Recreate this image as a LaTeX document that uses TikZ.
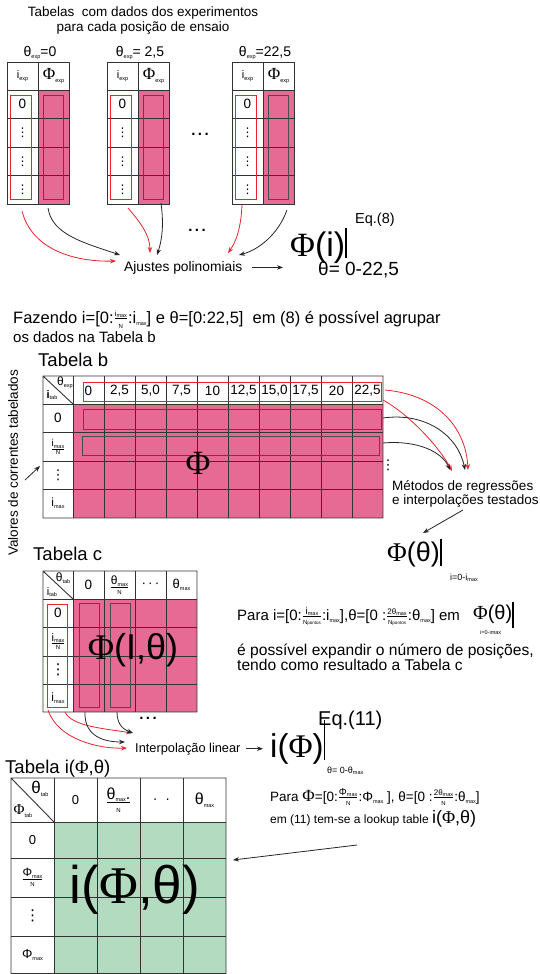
\documentclass[tikz,border=0pt]{standalone}
\usepackage{fontspec}
\setmainfont{Liberation Sans}
\newfontfamily\phifont{Liberation Serif}
\newfontfamily\dotsfont{DejaVu Sans}
\usetikzlibrary{arrows.meta,positioning}
\definecolor{tabpink}{RGB}{231,106,149}
\definecolor{tabgreen}{RGB}{179,219,192}
\definecolor{markred}{RGB}{232,36,44}

\newcommand\fsz[1]{\fontsize{#1}{#1}\selectfont}
\newcommand\Fi{{\phifont Φ}}
\newcommand\lo[1]{\raisebox{-0.3ex}{\fontsize{5.5}{6}\selectfont #1}}
\newcommand\fr[2]{$\frac{\hbox{#1}}{\hbox{\fontsize{6}{6}\selectfont #2}}$}
\newcommand\evbar[2]{\rule[-#2pt]{1.6pt}{\dimexpr #1pt+#2pt\relax}}
\newcommand\vd{{\dotsfont ⋮}}

\tikzset{
  tabline/.style={line width=0.9pt,black!80},
  redbox/.style={markred,line width=0.8pt},
  colbox/.style={black!70,line width=0.8pt},
  redarr/.style={markred,line width=0.8pt,-{Stealth[length=6pt,width=4.5pt]}},
  blkarr/.style={black!85,line width=0.8pt,-{Stealth[length=6pt,width=4.5pt]}},
  txt/.style={inner sep=0pt,anchor=base west},
  cell/.style={inner sep=0pt,font=\fsz{13.5}},
}

\begin{document}
\begin{tikzpicture}[x=1pt,y=-1pt]
  \useasboundingbox (0,0) rectangle (540,974);

  % tabelas dos ensaios
  \node[inner sep=0pt,align=center,font=\fontsize{13.5}{15}\selectfont] (titulo) at (143,21)
    {Tabelas\ \ com dados dos experimentos\\para cada posição de ensaio};

  \foreach \tx/\ang [count=\k] in {7/{=0}, 107/{= 2,5}, 232/{=22,5}} {
    \fill[tabpink] (\tx+31,90) rectangle (\tx+62,204);
    \foreach \ry in {90,118.5,147,175.5}
      \draw[tabline] (\tx,\ry) -- (\tx+62,\ry);
    \draw[tabline] (\tx,62) rectangle (\tx+62,204) (\tx+31,62) -- (\tx+31,204);
    \draw[redbox] (\tx+3,95) rectangle (\tx+24,199);
    \draw[colbox] (\tx+36,95) rectangle (\tx+56,199);
    \node[cell,font=\fsz{14}] (ang\k) at (\tx+33,53) {θ\lo{exp}\ang};
    \node[cell,font=\fsz{11}] (ie\k) at (\tx+15.5,76) {i\lo{exp}};
    \node[cell,font=\fsz{17}] (fe\k) at (\tx+46.5,76) {\Fi\lo{exp}};
    \node[cell] (z\k) at (\tx+15.5,104) {0};
    \foreach \ry [count=\j] in {133,161.5,190}
      \node[cell,font=\fsz{12}] (v\k\j) at (\tx+15.5,\ry) {\vd};
  }
  \node[cell,font=\fsz{15}] (dotsa) at (200,134) {\textbf{.\,.\,.}};
  \node[cell,font=\fsz{15}] (dotsb) at (197,230) {\textbf{.\,.\,.}};

  \node[txt,font=\fsz{13.8}] (ajustes) at (124,271) {Ajustes polinomiais};
  \node[txt,font=\fsz{34}] (phii) at (290,256) {\Fi(i)\evbar{28}{2}};
  \node[txt,font=\fsz{14.5}] (eq8) at (355,223) {Eq.(8)};
  \node[txt,font=\fsz{19}] (range8) at (318,275) {θ= 0-22,5};
  \draw[blkarr,shorten <=9pt,shorten >=7pt] (ajustes.east) -- (ajustes.east -| phii.west);

  \coordinate (aj1) at (116,261);
  \coordinate (aj2) at (120,255);
  \coordinate (aj3) at (150,253);
  \coordinate (aj4) at (157,255);
  \coordinate (aj5) at (228,253);
  \coordinate (aj6) at (239,255);
  \draw[redarr] (22,211) .. controls (32,250) and (75,262) .. (aj1);
  \draw[blkarr] (48,208) .. controls (52,235) and (85,243) .. (aj2);
  \draw[redarr] (128,208) .. controls (140,222) and (150,235) .. (aj3);
  \draw[blkarr] (161,203) .. controls (164,225) and (162,240) .. (aj4);
  \draw[redarr] (242,205) .. controls (241,228) and (236,242) .. (aj5);
  \draw[blkarr] (287,210) .. controls (278,235) and (258,250) .. (aj6);

  % texto do meio
  \node[txt,font=\fsz{16.5}] (faz1) at (13,323)
    {Fazendo i=[0:\fr{\fsz{7.5}i\lo{max}}{N}:i\lo{max}] e θ=[0:22,5]\ \ em (8) é possível agrupar};
  \node[txt,font=\fsz{15}] (faz2) at (13,342) {os dados na Tabela b};

  % Tabela b
  \node[txt,font=\fsz{18.5}] (tabb) at (38,366) {Tabela b};
  \fill[tabpink] (73,404) rectangle (383,518);
  \foreach \cx in {73,104,...,352}
    \draw[tabline] (\cx,376) -- (\cx,518);
  \foreach \ry in {404,432.5,461,489.5}
    \draw[tabline] (43,\ry) -- (383,\ry);
  \draw[tabline] (43,376) rectangle (383,518) (43,376) -- (73,404);
  \node[cell,font=\fsz{12}] (thb) at (65,383) {θ\lo{exp}};
  \node[cell,font=\fsz{11}] (itb) at (52,395) {\textbf{i}\lo{tab}};
  \foreach \v [count=\c] in {0,{2,5},{5,0},{7,5},10,{12,5},{15,0},{17,5},20,{22,5}}
    \node[cell] (hb\c) at (57.5+31*\c,391) {\v};
  \draw[redbox] (83,382) rectangle (381,401);
  \draw[colbox] (83,409) rectangle (381,429);
  \draw[colbox] (82,436) rectangle (379,455);
  \node[cell] (b0) at (58,418) {0};
  \node[cell,font=\fsz{10}] (bn) at (58,447) {\fr{i\lo{max}}{N}};
  \node[cell] (bd) at (58,475) {\vd};
  \node[cell,font=\fsz{12}] (bm) at (58,503) {i\lo{max}};
  \node[inner sep=0pt,font=\phifont\fsz{34}] (phib) at (198,463) {Φ};
  \node[cell] (vdb) at (388,465) {\vd};

  \node[txt,font=\fsz{13.5}] (metodos1) at (392,490) {Métodos de regressões};
  \node[txt,font=\fsz{13.5}] (metodos2) at (392,504) {e interpolações testados};
  \coordinate (mt1) at (468,470);
  \coordinate (mt2) at (452,471);
  \coordinate (mt3) at (465,470);
  \coordinate (mt4) at (450,470);
  \draw[redarr] (385,390) .. controls (440,395) and (466,430) .. (mt1);
  \draw[redarr] (383,400) .. controls (410,415) and (440,448) .. (mt2);
  \draw[blkarr] (383,418) .. controls (425,412) and (458,435) .. (mt3);
  \draw[blkarr] (383,443) .. controls (418,440) and (442,452) .. (mt4);

  \node[txt,font=\fsz{27}] (phith) at (387,561) {\Fi(θ)\evbar{22}{5}};
  \node[txt,font=\fsz{9}] (phithsub) at (450,580) {i=0-i\lo{max}};
  \coordinate (mtout) at (463,510);
  \draw[blkarr] (mtout) -- (423,533);

  \node[rotate=90,inner sep=0pt,font=\fsz{13.5}] (valores) at (13,463) {Valores de correntes tabelados};
  \coordinate (valarr) at (25,480);
  \draw[blkarr] (valarr) -- (40,466);

  % Tabela c
  \node[txt,font=\fsz{18.5}] (tabc) at (33,560) {Tabela c};
  \fill[tabpink] (73,599) rectangle (197,712);
  \foreach \cx in {73,104,135,166}
    \draw[tabline] (\cx,571) -- (\cx,712);
  \foreach \ry in {599,627,656,684}
    \draw[tabline] (43,\ry) -- (197,\ry);
  \draw[tabline] (43,571) rectangle (197,712) (43,571) -- (73,599);
  \node[cell,font=\fsz{12}] (thc) at (63,578) {θ\lo{tab}};
  \node[cell,font=\fsz{11}] (itc) at (52,592) {i\lo{tab}};
  \node[cell] (hc1) at (88.5,585) {0};
  \node[cell,font=\fsz{12}] (hc2) at (119.5,585) {\fr{θ\lo{max}}{N}};
  \node[cell] (hc3) at (150.5,585) {·\,·\,·};
  \node[cell,font=\fsz{13}] (hc4) at (181.5,585) {θ\lo{max}};
  \node[cell] (c0) at (58,613) {0};
  \node[cell,font=\fsz{11}] (cn) at (58,641.5) {\fr{i\lo{max}}{N}};
  \node[cell,font=\fsz{15}] (cd) at (58,670) {\vd};
  \node[cell,font=\fsz{12}] (cm) at (58,698) {i\lo{max}};
  \draw[redbox] (47,604) rectangle (67,707);
  \draw[colbox] (79,603) rectangle (99,707);
  \draw[colbox] (110,603) rectangle (130,707);
  \node[inner sep=0pt,font=\fsz{36}] (phic) at (133,650) {\Fi(I,θ)};
  \node[cell,font=\fsz{15}] (dotsc) at (148,718) {\textbf{.\,.\,.}};

  \node[txt,font=\fsz{15}] (para1) at (237,620)
    {Para i=[0:\fr{\fsz{10}i\lo{max}}{N\fontsize{4.5}{5}\selectfont pontos}:i\lo{max}],θ=[0 :\fr{\fsz{8}2θ\lo{max}}{N\fontsize{4.5}{5}\selectfont pontos}:θ\lo{max}] em};
  \node[txt,font=\fsz{20}] (phith2) at (473,619) {\Fi(θ)\evbar{17}{9}};
  \node[txt,font=\fsz{5.5}] (phith2sub) at (480,634) {i=0-i\lo{max}};
  \node[txt,font=\fsz{15.6}] (para2) at (237,655) {é possível expandir o número de posições,};
  \node[txt,font=\fsz{15.6}] (para3) at (237,670) {tendo como resultado a Tabela c};

  \node[txt,font=\fsz{12.8}] (interp) at (135,752) {Interpolação linear};
  \coordinate (ip1) at (127,748);
  \coordinate (ip2) at (132,733);
  \coordinate (ip3) at (125,742);
  \coordinate (ip4) at (133,733);
  \draw[redarr] (48,710) .. controls (58,740) and (100,749) .. (ip1);
  \draw[redarr] (65,712) .. controls (72,726) and (100,728) .. (ip2);
  \draw[blkarr] (85,712) .. controls (84,737) and (105,742) .. (ip3);
  \draw[blkarr] (117,712) .. controls (117,726) and (125,730) .. (ip4);

  \node[txt,font=\fsz{33}] (iphi) at (270,757) {i(\Fi)\evbar{37}{3}};
  \node[txt,font=\fsz{20}] (eq11) at (318,725) {Eq.(11)};
  \node[txt,font=\fsz{9}] (range11) at (327,773) {θ= 0-θ\lo{max}};
  \draw[blkarr,shorten <=5pt,shorten >=7pt] (interp.east) -- (interp.east -| iphi.west);

  % Tabela i(Phi,theta)
  \node[txt,font=\fsz{18.5}] (tabi) at (5,773) {Tabela i(\Fi,θ)};
  \fill[tabgreen] (54,822) rectangle (226,974);
  \foreach \cx in {54,97,140,183}
    \draw[tabline] (\cx,778) -- (\cx,974);
  \foreach \ry in {822,858,897,936}
    \draw[tabline] (11,\ry) -- (226,\ry);
  \draw[tabline] (11,778) rectangle (226,973.5) (11,778) -- (54,822);
  \node[cell,font=\fsz{17}] (thi) at (40,789) {θ\lo{tab}};
  \node[cell,font=\fsz{15}] (fti) at (23,811) {\Fi\lo{tab}};
  \node[cell,font=\fsz{13}] (hi1) at (75.5,800) {0};
  \node[cell,font=\fsz{16}] (hi2) at (118.5,800) {\fr{θ\lo{max}.}{N}};
  \node[cell,font=\fsz{14}] (hi3) at (161.5,801) {·\ \ ·};
  \node[cell,font=\fsz{16}] (hi4) at (204.5,800) {θ\lo{max}};
  \node[cell,font=\fsz{13}] (i0) at (32.5,840) {0};
  \node[cell,font=\fsz{12}] (in) at (32.5,877) {\fr{Φ\lo{max}}{N}};
  \node[cell,font=\fsz{15}] (id) at (32.5,916) {\vd};
  \node[cell,font=\fsz{13}] (im) at (32.5,955) {Φ\lo{max}};
  \node[inner sep=0pt,font=\fsz{53}] (iphic) at (135,890) {i(\Fi,θ)};

  \node[txt,font=\fsz{13.5}] (lookup1) at (270,801)
    {Para {\fsz{17}\Fi}=[0:\fr{\fsz{10}Φ\lo{max}}{N}:Φ\lo{max} ], θ=[0 :\fr{\fsz{8}2θ\lo{max}}{N}:θ\lo{max}]};
  \node[txt,font=\fsz{12}] (lookup2) at (270,823) {em (11) tem-se a lookup table {\fsz{18}i(\Fi,θ)}};
  \coordinate (lkarr) at (357,845);
  \draw[blkarr] (lkarr) -- (233,860);
\end{tikzpicture}
\end{document}
